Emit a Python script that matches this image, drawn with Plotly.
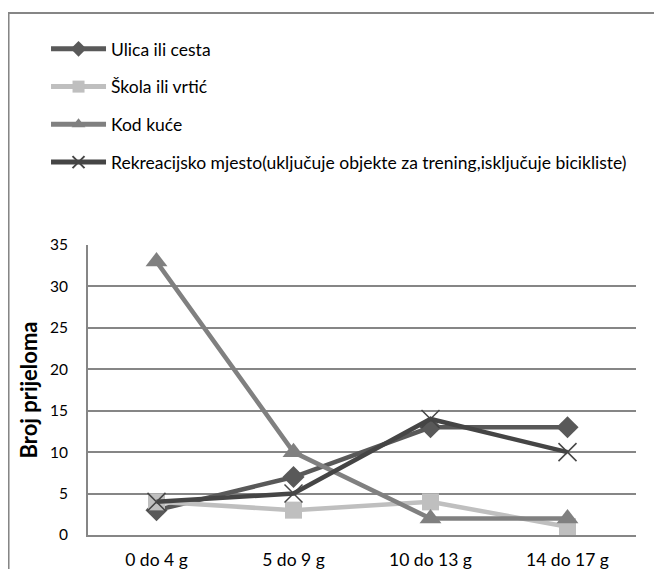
import plotly.graph_objects as go

categories = ["0 do 4 g", "5 do 9 g", "10 do 13 g", "14 do 17 g"]
ulica = [3, 7, 13, 13]
skola = [4, 3, 4, 1]
kod_kuce = [33, 10, 2, 2]
rekreacija = [4, 5, 14, 10]
names = ["Ulica ili cesta", "Škola ili vrtić", "Kod kuće",
         "Rekreacijsko mjesto(uključuje objekte za trening,isključuje bicikliste)"]
y_ticks = [0, 5, 10, 15, 20, 25, 30, 35]

FONT = "Lato"
fig = go.Figure()

fig.add_trace(go.Scatter(x=categories, y=ulica, name=names[0], mode="lines+markers",
                         line=dict(color="#595959", width=4.5), legendgroup="a",
                         marker=dict(symbol="diamond", size=17, color="#595959")))
fig.add_trace(go.Scatter(x=categories, y=skola, name=names[1], mode="lines+markers",
                         line=dict(color="#BFBFBF", width=4.5), legendgroup="b",
                         marker=dict(symbol="square", size=17, color="#BFBFBF")))
fig.add_trace(go.Scatter(x=categories, y=kod_kuce, name=names[2], mode="lines+markers",
                         line=dict(color="#808080", width=4.5), legendgroup="c",
                         marker=dict(symbol="triangle-up", size=19, color="#808080")))
fig.add_trace(go.Scatter(x=categories, y=rekreacija, name=names[3], mode="lines+markers",
                         line=dict(color="#454545", width=4.5), legendgroup="d",
                         marker=dict(symbol="x-thin", size=18,
                                     line=dict(color="#454545", width=1.5), color="#454545")))

fig.update_layout(
    width=654, height=561,
    margin=dict(l=80, r=26, t=237, b=34, autoexpand=False),
    paper_bgcolor="white", plot_bgcolor="white",
    font=dict(family=FONT, size=15, color="#000000"),
    showlegend=True,
    legend=dict(x=-0.0766, y=1.738, xanchor="left", yanchor="top",
                traceorder="grouped", tracegroupgap=12, itemwidth=55,
                itemsizing="constant",
                font=dict(family=FONT, size=17.5, color="#000000"),
                bgcolor="rgba(0,0,0,0)"),
    xaxis=dict(type="category", showgrid=False, showline=True, linecolor="#868686",
               linewidth=2, ticks="", ticklabelstandoff=8, automargin=False,
               tickfont=dict(family=FONT, size=17.5), range=[-0.5, 3.5]),
    yaxis=dict(range=[0, 35], tickvals=y_ticks, showgrid=True, gridcolor="#868686",
               gridwidth=1.5, showline=True, linecolor="#868686", linewidth=2,
               ticks="", ticklabelstandoff=15, automargin=False,
               zeroline=False, tickfont=dict(family=FONT, size=15.5),
               title=dict(text="<b>Broj prijeloma</b>", font=dict(family=FONT, size=22),
                          standoff=6)),
    shapes=[dict(type="rect", xref="paper", yref="paper",
                 x0=-0.145, x1=1.1, y0=-0.3, y1=1.8,
                 line=dict(color="#868686", width=2), fillcolor="rgba(0,0,0,0)")],
)

fig.write_html("out.html")
